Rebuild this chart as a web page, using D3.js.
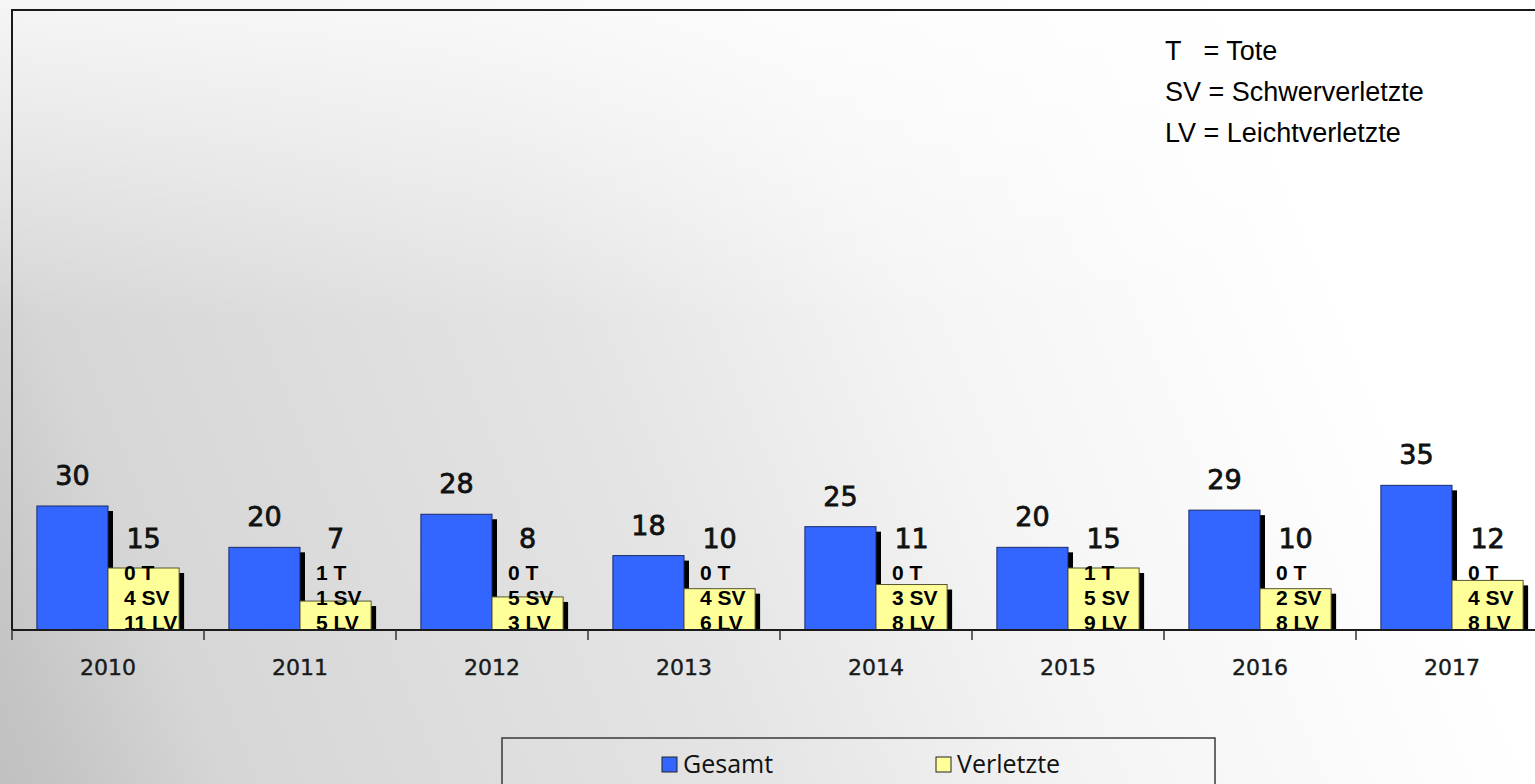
<!DOCTYPE html>
<html>
<head>
<meta charset="utf-8">
<script src="https://cdn.jsdelivr.net/npm/d3@7"></script>
<style>
  html, body { margin: 0; padding: 0; overflow: hidden; }
  svg { display: block; }
</style>
</head>
<body>
<main></main>
<script>
const years = ['2010', '2011', '2012', '2013', '2014', '2015', '2016', '2017'];
const gesamt = [30, 20, 28, 18, 25, 20, 29, 35];
const verletzte = [15, 7, 8, 10, 11, 15, 10, 12];
const tote = [0, 1, 0, 0, 0, 1, 0, 0];
const schwer = [4, 1, 5, 4, 3, 5, 2, 4];
const leicht = [11, 5, 3, 6, 8, 9, 8, 8];
const seriesNames = ['Gesamt', 'Verletzte'];
const keyLines = ['T   = Tote', 'SV = Schwerverletzte', 'LV = Leichtverletzte'];

const colors = { Gesamt: '#3366ff', Verletzte: '#ffff99' };

const width = 1535;
const height = 784;

const data = years.map((year, i) => ({
  year,
  Gesamt: gesamt[i],
  Verletzte: verletzte[i],
  lines: [`${tote[i]} T`, `${schwer[i]} SV`, `${leicht[i]} LV`],
}));

const x = d3.scaleBand().domain(years).range([12, 1548]);
const xSub = d3
  .scaleBand()
  .domain(seriesNames)
  .range([0, x.bandwidth()])
  .paddingOuter(0.35);
const y = d3.scaleLinear().domain([0, 150]).range([630, 10]);

const svg = d3
  .select('main')
  .append('svg')
  .attr('width', width)
  .attr('height', height)
  .attr('viewBox', [0, 0, width, height]);

// background: grey lower left fading to white upper right, lighter along the top
const defs = svg.append('defs');
const grad = defs
  .append('linearGradient')
  .attr('id', 'bg')
  .attr('gradientUnits', 'userSpaceOnUse')
  .attr('x1', -200)
  .attr('y1', 800)
  .attr('x2', 1300)
  .attr('y2', 200);
[
  [0, '#b4b4b4'],
  [0.15, '#c4c4c4'],
  [0.25, '#d6d6d6'],
  [0.55, '#e4e4e4'],
  [0.75, '#f4f4f4'],
  [1, '#ffffff'],
].forEach(([o, c]) => grad.append('stop').attr('offset', o).attr('stop-color', c));

const topGlow = defs
  .append('linearGradient')
  .attr('id', 'glow')
  .attr('gradientUnits', 'userSpaceOnUse')
  .attr('x1', 0)
  .attr('y1', 0)
  .attr('x2', 0)
  .attr('y2', 320);
topGlow.append('stop').attr('offset', 0).attr('stop-color', '#fff').attr('stop-opacity', 0.75);
topGlow.append('stop').attr('offset', 1).attr('stop-color', '#fff').attr('stop-opacity', 0);

svg.append('rect').attr('width', width).attr('height', height).attr('fill', 'url(#bg)');
svg.append('rect').attr('width', width).attr('height', height).attr('fill', 'url(#glow)');

// frame: top and left
svg
  .append('path')
  .attr('d', `M${x.range()[0]},${y(0)}V${y.range()[1]}H${width}`)
  .attr('fill', 'none')
  .attr('stroke', '#1a1a1a')
  .attr('stroke-width', 2);

const groups = svg
  .append('g')
  .selectAll('g')
  .data(data)
  .join('g')
  .attr('transform', d => `translate(${x(d.year)},0)`);

// bars with drop shadow
seriesNames.forEach(key => {
  groups
    .append('rect')
    .attr('x', xSub(key) + 5)
    .attr('y', d => y(d[key]) + 5)
    .attr('width', xSub.bandwidth())
    .attr('height', d => y(0) - y(d[key]) - 5)
    .attr('fill', '#000');

  groups
    .append('rect')
    .attr('x', xSub(key))
    .attr('y', d => y(d[key]))
    .attr('width', xSub.bandwidth())
    .attr('height', d => y(0) - y(d[key]))
    .attr('fill', colors[key])
    .attr('stroke', key === 'Gesamt' ? '#1a2a66' : '#555530')
    .attr('stroke-width', 1);
});

// value labels
groups
  .append('text')
  .attr('x', xSub('Gesamt') + xSub.bandwidth() / 2)
  .attr('y', d => y(d.Gesamt) - 21)
  .attr('text-anchor', 'middle')
  .attr('font-family', 'DejaVu Sans')
  .attr('font-size', 27)
  .attr('fill', '#111')
  .attr('stroke', '#111')
  .attr('stroke-width', 0.8)
  .text(d => d.Gesamt);

groups
  .append('text')
  .attr('x', xSub('Verletzte') + xSub.bandwidth() / 2)
  .attr('y', d => Math.min(y(d.Verletzte) - 20, 548))
  .attr('text-anchor', 'middle')
  .attr('font-family', 'DejaVu Sans')
  .attr('font-size', 27)
  .attr('fill', '#111')
  .attr('stroke', '#111')
  .attr('stroke-width', 0.8)
  .text(d => d.Verletzte);

// T / SV / LV breakdown
groups
  .selectAll('.detail')
  .data(d => d.lines)
  .join('text')
  .attr('class', 'detail')
  .attr('x', xSub('Verletzte') + 16)
  .attr('y', (d, i) => 580 + i * 25)
  .attr('font-family', 'Liberation Sans, Arial, sans-serif')
  .attr('font-weight', 'bold')
  .attr('font-size', 21)
  .attr('fill', '#000')
  .text(d => d);

// x axis
const axis = svg.append('g');
axis
  .append('line')
  .attr('x1', x.range()[0])
  .attr('x2', width)
  .attr('y1', y(0))
  .attr('y2', y(0))
  .attr('stroke', '#1a1a1a')
  .attr('stroke-width', 2);

axis
  .selectAll('.tick')
  .data(years)
  .join('line')
  .attr('class', 'tick')
  .attr('x1', d => x(d))
  .attr('x2', d => x(d))
  .attr('y1', y(0))
  .attr('y2', y(0) + 10)
  .attr('stroke', '#333')
  .attr('stroke-width', 1.5);

axis
  .selectAll('.year')
  .data(years)
  .join('text')
  .attr('class', 'year')
  .attr('x', d => x(d) + x.bandwidth() / 2)
  .attr('y', 675)
  .attr('text-anchor', 'middle')
  .attr('font-family', 'DejaVu Sans')
  .attr('font-size', 22)
  .attr('fill', '#1a1a1a')
  .attr('stroke', '#1a1a1a')
  .attr('stroke-width', 0.4)
  .text(d => d);

// abbreviation key
svg
  .append('g')
  .selectAll('text')
  .data(keyLines)
  .join('text')
  .attr('x', 1165)
  .attr('y', (d, i) => 60 + i * 41)
  .attr('font-family', 'Liberation Sans, Arial, sans-serif')
  .attr('font-size', 27)
  .attr('fill', '#000')
  .style('white-space', 'pre')
  .text(d => d);

// legend
const legend = svg.append('g');
legend
  .append('rect')
  .attr('x', 502)
  .attr('y', 738)
  .attr('width', 713)
  .attr('height', 80)
  .attr('fill', 'none')
  .attr('stroke', '#3a3a3a')
  .attr('stroke-width', 1.5);

const legendItems = legend
  .selectAll('g')
  .data(seriesNames)
  .join('g')
  .attr('transform', (d, i) => `translate(${662 + i * 274},757)`);

legendItems
  .append('rect')
  .attr('width', 15)
  .attr('height', 15)
  .attr('fill', d => colors[d])
  .attr('stroke', '#222')
  .attr('stroke-width', 1);

legendItems
  .append('text')
  .attr('x', 21)
  .attr('y', 16)
  .attr('font-family', 'Open Sans')
  .attr('font-size', 25)
  .attr('fill', '#111')
  .text(d => d);
</script>
</body>
</html>
